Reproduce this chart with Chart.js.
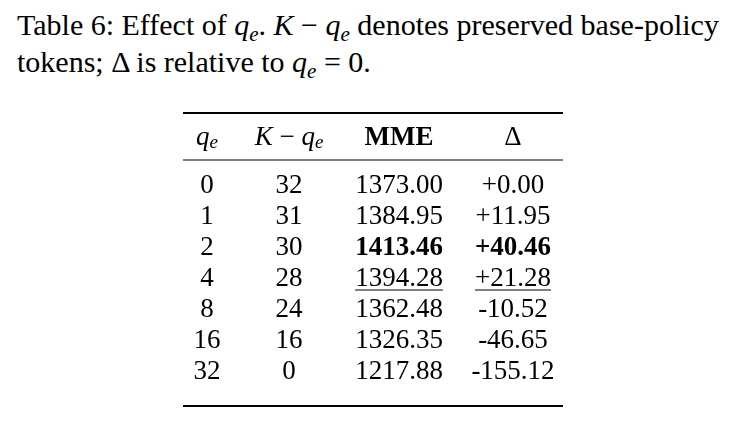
<!DOCTYPE html>
<html><head><meta charset="utf-8">
<script src="https://cdn.jsdelivr.net/npm/chart.js@4"></script>
<style>
html,body{margin:0;padding:0;background:#fff;}
#wrap{position:relative;width:746px;height:426px;}
#cap{position:absolute;left:17px;top:6px;font-family:"Liberation Serif",serif;font-size:30px;line-height:37px;color:#000;white-space:nowrap;}
#cap sub{font-size:21px;vertical-align:-6px;line-height:0;}
canvas{position:absolute;left:0;top:0;}
</style></head><body>
<div id="wrap">
<div id="cap">Table 6: Effect of <i>q<sub>e</sub></i>. <i>K</i> − <i>q<sub>e</sub></i> denotes preserved base-policy<br>tokens; Δ is relative to <i>q<sub>e</sub></i> = 0.</div>
<canvas id="c" width="746" height="426"></canvas>
</div>
<script>
const qe = ["0","1","2","4","8","16","32"];
const kMinusQe = ["32","31","30","28","24","16","0"];
const mme = ["1373.00","1384.95","1413.46","1394.28","1362.48","1326.35","1217.88"];
const delta = ["+0.00","+11.95","+40.46","+21.28","-10.52","-46.65","-155.12"];
const boldRow = 2, underlineRow = 3;
const colX = [24,106,216,330];
const headerY = -1.55, midRuleY = -0.839;

const FONT = '"Liberation Serif", serif';
function drawParts(ctx, parts, cx, y){
  let w=0;
  parts.forEach(p=>{ctx.font=p.f; p.w=ctx.measureText(p.t).width; w+=p.w;});
  let x=cx-w/2;
  parts.forEach(p=>{ctx.font=p.f; ctx.fillText(p.t,x,y+(p.dy||0)); x+=p.w;});
}
const tablePlugin = {
  id:'table',
  afterDraw(chart){
    const ctx=chart.ctx, xs=chart.scales.x, ys=chart.scales.y, a=chart.chartArea;
    ctx.save();
    ctx.fillStyle='#000'; ctx.strokeStyle='#000';
    ctx.textBaseline='middle';
    ctx.lineWidth=2.2;
    ctx.beginPath();ctx.moveTo(a.left,a.top);ctx.lineTo(a.right,a.top);ctx.stroke();
    ctx.beginPath();ctx.moveTo(a.left,a.bottom);ctx.lineTo(a.right,a.bottom);ctx.stroke();
    ctx.lineWidth=1.2;
    const my=ys.getPixelForValue(midRuleY);
    ctx.beginPath();ctx.moveTo(a.left,my);ctx.lineTo(a.right,my);ctx.stroke();
    const hy=ys.getPixelForValue(headerY);
    const it='italic 27px '+FONT, sub='italic 19px '+FONT, rg='27px '+FONT;
    drawParts(ctx,[{t:'q',f:it},{t:'e',f:sub,dy:5}],xs.getPixelForValue(colX[0]),hy);
    drawParts(ctx,[{t:'K',f:it},{t:' − ',f:rg},{t:'q',f:it},{t:'e',f:sub,dy:5}],xs.getPixelForValue(colX[1]),hy);
    drawParts(ctx,[{t:'MME',f:'bold 27px '+FONT}],xs.getPixelForValue(colX[2]),hy);
    drawParts(ctx,[{t:'Δ',f:rg}],xs.getPixelForValue(colX[3]),hy);
    const cols=[qe,kMinusQe,mme,delta];
    for(let r=0;r<qe.length;r++){
      const y=ys.getPixelForValue(r);
      cols.forEach((c,i)=>{
        const f=(r===boldRow&&i>=2)?'bold 27px '+FONT:rg;
        ctx.font=f; ctx.textAlign='center';
        const cx=xs.getPixelForValue(colX[i]);
        ctx.fillText(c[r],cx,y);
        if(r===underlineRow&&i>=2){
          const w=ctx.measureText(c[r]).width;
          ctx.lineWidth=1.2;
          ctx.beginPath();ctx.moveTo(cx-w/2,y+11);ctx.lineTo(cx+w/2,y+11);ctx.stroke();
        }
      });
    }
    ctx.restore();
  }
};
new Chart(document.getElementById('c'),{
  type:'scatter',
  data:{datasets:[{data:[]}]},
  options:{
    responsive:false,animation:false,
    layout:{padding:{left:183,right:183,top:113,bottom:20}},
    plugins:{legend:{display:false},tooltip:{enabled:false}},
    scales:{
      x:{type:'linear',min:0,max:380,display:false},
      y:{type:'linear',min:-2.355,max:7.097,reverse:true,display:false}
    }
  },
  plugins:[tablePlugin]
});
</script>
</body></html>
